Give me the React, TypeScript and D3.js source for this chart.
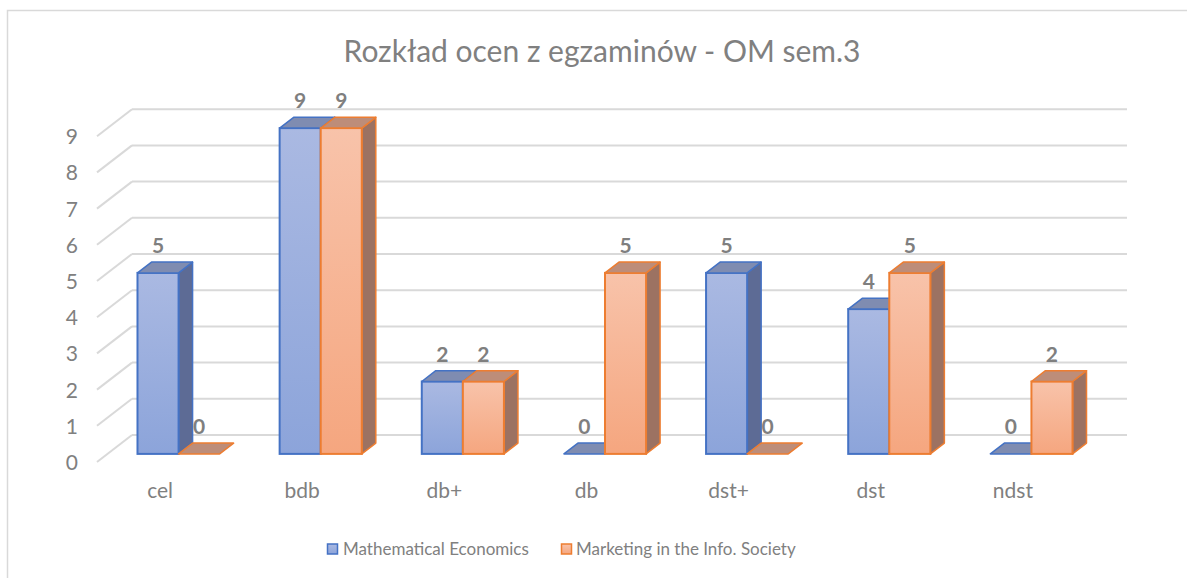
import React from "react";
import * as d3 from "d3";

const categories = ["cel", "bdb", "db+", "db", "dst+", "dst", "ndst"];
const seriesNames = ["Mathematical Economics", "Marketing in the Info. Society"];
const mathEcon = [5, 9, 2, 0, 5, 4, 0];
const marketing = [0, 9, 2, 5, 0, 5, 2];
const yTicks = [0, 1, 2, 3, 4, 5, 6, 7, 8, 9];
const titleText = "Rozkład ocen z egzaminów - OM sem.3";

const W = 1187;
const H = 578;
const FONT = "Lato, 'Open Sans', sans-serif";

const DEPTH_DX = 35;
const DEPTH_DY = -27;
const Z_FRONT = 0.3;
const Z_BACK = 0.7;

const palette = [
  { stroke: "#4472c4", top: "#7f8cb1", side: "#5d6b95", g0: "#aab9e2", g1: "#8ca4da" },
  { stroke: "#ed7d31", top: "#bd8d79", side: "#9c7262", g0: "#f8c3aa", g1: "#f5a67f" },
];

export default function App() {
  const x = d3
    .scaleBand<string>()
    .domain(categories)
    .range([97, 1092])
    .paddingInner(0.422)
    .paddingOuter(0.211);
  const xs = d3.scaleBand<number>().domain([0, 1]).range([0, x.bandwidth()]);
  const y = d3.scaleLinear().domain([0, 9]).range([462, 462 - 9 * 36.2]);
  const series = [mathEcon, marketing];

  const p = (px: number, py: number, z: number) => [px + z * DEPTH_DX, py + z * DEPTH_DY];
  const poly = (pts: number[][]) => pts.map((q) => q.join(",")).join(" ");

  const xFront0 = x.range()[0];
  const xBack1 = x.range()[1] + DEPTH_DX;

  const bars: React.ReactNode[] = [];
  categories.forEach((c, ci) => {
    series.forEach((vals, si) => {
      const v = vals[ci];
      const pal = palette[si];
      const x0 = (x(c) as number) + (xs(si) as number);
      const x1 = x0 + xs.bandwidth();
      const yb = y(0);
      const yt = y(v);
      const fl = p(x0, yt, Z_FRONT);
      const fr = p(x1, yt, Z_FRONT);
      const bl = p(x0, yt, Z_BACK);
      const br = p(x1, yt, Z_BACK);
      const fbl = p(x0, yb, Z_FRONT);
      const fbr = p(x1, yb, Z_FRONT);
      const bbr = p(x1, yb, Z_BACK);
      const key = `${ci}-${si}`;
      bars.push(
        <g key={key}>
          {v > 0 && (
            <polygon
              points={poly([fr, br, bbr, fbr])}
              fill={pal.side}
              stroke={pal.stroke}
              strokeWidth={1.5}
              strokeLinejoin="round"
            />
          )}
          {v > 0 && (
            <rect
              x={fl[0]}
              y={fl[1]}
              width={x1 - x0}
              height={fbl[1] - fl[1]}
              fill={`url(#grad${si})`}
              stroke={pal.stroke}
              strokeWidth={2}
            />
          )}
          <polygon
            points={poly([fl, fr, br, bl])}
            fill={pal.top}
            stroke={pal.stroke}
            strokeWidth={1.5}
            strokeLinejoin="round"
          />
          <text
            x={(fl[0] + fr[0]) / 2}
            y={bl[1] - 9}
            textAnchor="middle"
            fontFamily={FONT}
            fontWeight={700}
            fontSize={21}
            fill="#7f7f7f"
          >
            {v}
          </text>
        </g>
      );
    });
  });

  return (
    <svg width={W} height={H} style={{ position: "absolute", left: 0, top: 0 }}>
      <defs>
        {palette.map((pal, i) => (
          <linearGradient key={i} id={`grad${i}`} x1="0" y1="0" x2="0" y2="1">
            <stop offset="0%" stopColor={pal.g0} />
            <stop offset="100%" stopColor={pal.g1} />
          </linearGradient>
        ))}
      </defs>
      <rect x={0} y={0} width={W} height={H} fill="#ffffff" />
      <rect x={7.5} y={10.5} width={1200} height={600} fill="#ffffff" stroke="#d9d9d9" strokeWidth={1.5} />
      <text
        x={602}
        y={62}
        textAnchor="middle"
        fontFamily={FONT}
        fontSize={30}
        fill="#808080"
      >
        {titleText}
      </text>
      {yTicks.map((t) => {
        const f = p(xFront0, y(t), 0);
        const b = p(xFront0, y(t), 1);
        return (
          <g key={t}>
            <line x1={f[0]} y1={f[1]} x2={b[0]} y2={b[1]} stroke="#d9d9d9" strokeWidth={2} />
            <line x1={b[0]} y1={b[1]} x2={xBack1} y2={b[1]} stroke="#d9d9d9" strokeWidth={2} />
            <text
              x={78}
              y={y(t) + 8}
              textAnchor="end"
              fontFamily={FONT}
              fontSize={21}
              fill="#808080"
            >
              {t}
            </text>
          </g>
        );
      })}
      {bars}
      {categories.map((c) => (
        <text
          key={c}
          x={(x(c) as number) + x.bandwidth() / 2 - 8}
          y={498}
          textAnchor="middle"
          fontFamily={FONT}
          fontSize={21}
          fill="#808080"
        >
          {c}
        </text>
      ))}
      {[
        { x: 327, tx: 343 },
        { x: 561, tx: 576 },
      ].map((l, i) => (
        <g key={i}>
          <rect
            x={l.x + 0.5}
            y={544}
            width={10}
            height={10}
            fill={`url(#grad${i})`}
            stroke={palette[i].stroke}
            strokeWidth={1.5}
          />
          <text x={l.tx} y={555} fontFamily={FONT} fontSize={17} fill="#808080">
            {seriesNames[i]}
          </text>
        </g>
      ))}
    </svg>
  );
}
